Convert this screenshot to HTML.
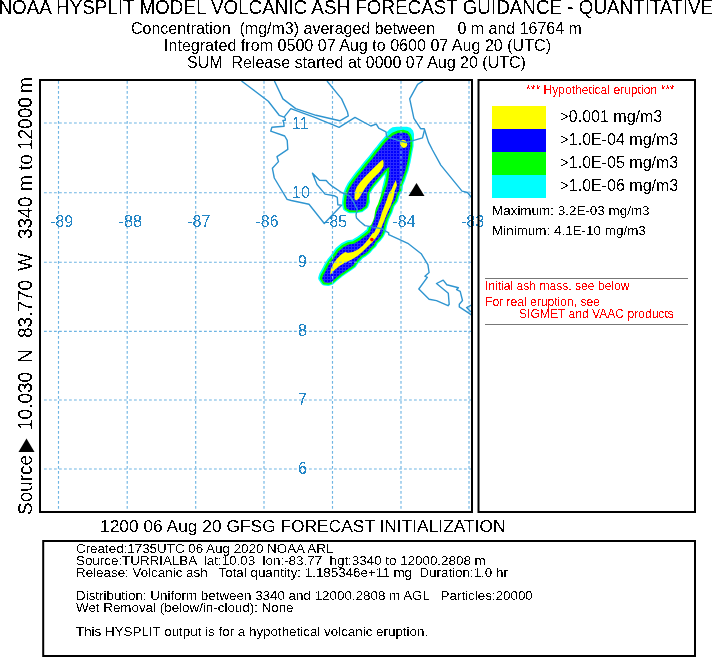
<!DOCTYPE html>
<html><head><meta charset="utf-8">
<style>
html,body{margin:0;padding:0;background:#fff;}
body{width:713px;height:657px;overflow:hidden;}
svg{display:block;}
text{font-family:"Liberation Sans",Arial,sans-serif;fill:#000;white-space:pre;filter:url(#crisp);}
.g{stroke:#6fb5e3;stroke-width:1.15;stroke-dasharray:2.8 2.2;fill:none;}
.c{stroke:#2f95d0;stroke-width:1.4;fill:none;stroke-linejoin:round;}
.lb text{fill:#2386c6;font-size:16px;}
text.r{fill:#f00;font-size:12.1px;}
.b text{font-size:13.38px;}
</style></head>
<body>
<svg width="713" height="657" viewBox="0 0 713 657">
<defs><filter id="crisp" x="-10%" y="-10%" width="120%" height="120%" color-interpolation-filters="sRGB"><feComponentTransfer><feFuncA type="discrete" tableValues="0 1"/></feComponentTransfer></filter></defs>
<rect width="713" height="657" fill="#fff"/>
<!-- header -->
<text x="-1.5" y="13.9" transform="matrix(1 0 0 1.075 0 -1.04)" style="font-size:18.85px">NOAA HYSPLIT MODEL VOLCANIC ASH FORECAST GUIDANCE - QUANTITATIVE</text>
<text x="131" y="33.8" style="font-size:16px;white-space:pre" xml:space="preserve">Concentration  (mg/m3) averaged between     0 m and 16764 m</text>
<text x="164" y="51" style="font-size:16.08px">Integrated from 0500 07 Aug to 0600 07 Aug 20 (UTC)</text>
<text x="187" y="67.8" style="font-size:16px;white-space:pre" xml:space="preserve">SUM  Release started at 0000 07 Aug 20 (UTC)</text>

<!-- map -->
<defs><clipPath id="mc"><rect x="41" y="81" width="430" height="430"/></clipPath></defs>
<g id="map" clip-path="url(#mc)">

<g id="plume">
<defs><path id="pb" d="M391 137 393.1 135.2 398 133.1 403.6 132.4 407.1 133.5 409.2 135.9 410.3 140.1 410.3 146.4 409.2 152 408.2 157.6 407.1 163.2 405.5 170 403.5 175.5 402.1 179.8 399.8 185.3 399.2 190.5 397.5 193 396.2 196.2 395 200.5 391.5 205.4 389.3 212.1 386 218.8 384 225.5 382.6 232.2 381 235.5 378.3 239 375.2 242 373.8 245 370.4 248.1 367.9 251.2 364.5 254 361 256 358.3 259 356 261.5 354.5 263.5 353.5 265.3 350.4 267.5 345.3 271.1 339.9 274.8 335.5 278.4 331.5 282.1 328.6 283 324.6 282.6 322.1 278.7 323 275.8 325.8 270.8 328 266.3 330.8 261.8 334.2 257.8 338.6 251.3 343.7 247 348.7 244.5 353.8 243.7 359.7 240.3 366.4 235.3 370 232.2 372 225.5 374.7 218.8 376.7 212.1 379.4 205.4 382.4 198.7 384.7 192 386.8 186 388.5 178.7 389.3 172 389.3 167 386.8 168.5 384.8 170.3 380.6 175.2 376.4 180.1 372.2 185 369.4 189.2 367.3 193.4 367 197.5 366.6 202.5 365.3 206.3 361 209.5 355.9 210.4 350 210.3 346.6 208.3 345.8 203.5 347 194.8 349 189.6 351.5 185 355.5 179.5 359.3 174.5 363.5 169.5 367.8 164 372.5 158.5 376 153.8 379.8 149.2 383.5 144.5 387 140.5Z"/><pattern id="bp" patternUnits="userSpaceOnUse" x="0" y="0" width="3" height="3"><rect width="3" height="3" fill="#2a2aff"/><rect x="1" y="1" width="2" height="2" fill="#0000fe"/></pattern></defs>
<use href="#pb" fill="#0ff" stroke="#0ff" stroke-width="7.2" stroke-linejoin="round" transform="translate(-0.3 -0.7)"/>
<path d="M386.5 132.5 389.5 129.2 392.5 127.2 397 126.7 407 126.7 410.5 127.8 413 130.5 414 134 414 141 410 141 400 135 390 137Z" fill="#0ff"/>
<use href="#pb" fill="#0f0" stroke="#0f0" stroke-width="4.4" stroke-linejoin="round" transform="translate(-0.15 -0.35)"/>
<path d="M383.3 177.3 382.2 187.2 380.3 197.1 378 204 376 208 375 212 374.3 217 373 221 371 225 366 228 360 225 359 219 363 216.8 367 214.3 370 210.8 371.5 206 369.8 200.2 369.8 194.1 374.2 188 379.5 181.9Z" fill="#fff"/>
<use href="#pb" fill="url(#bp)"/>
<path d="M383.1 159.8 383.6 162.5 383.4 166.5 379.6 171.9 373.2 178.2 368.3 183.8 364.2 189.6 361.3 194.6 359 198.2 356 200.8 354.5 198.6 354.6 196 354.9 192 356.6 187.3 360.1 182.3 364.3 177.4 370.2 171.5 374.7 167 377.8 164 380.9 161Z" fill="#ff0"/>
<path d="M395.7 180.2 397 185.3 394.8 190.8 394.3 194 393.1 198.7 390.8 205.4 387.6 212.1 385 218.8 382.2 225.5 379.6 232.2 376.5 236.9 372.5 242 367.2 247 362.2 252.1 357.1 256.3 351.3 259.7 345.4 262.6 339 266.2 333.5 271 331.2 273.8 330.2 274.6 330.9 269 333.2 264 336.9 258.8 341.2 254.6 345.4 252.1 347.9 252.9 352.9 252.1 358 249.6 363 245.4 367.5 240.3 372.3 233.6 374.4 232.2 377.5 225.5 380 218.8 382.1 212.1 384.7 205.4 387.1 198.7 389.4 192 391.1 190.5 393.3 185.3Z" fill="#ff0"/>
<ellipse cx="403.6" cy="143.8" rx="3.4" ry="4.1" transform="rotate(-25 403.6 143.8)" fill="#ff0"/>
<circle cx="371.9" cy="239.6" r="1.8" fill="#f00"/>
</g>
<g class="g">
<path d="M58.5 81V511M127.2 81V511M195.7 81V511M264 81V511M332.5 81V511M401 81V511M469 81V511"/>
<path d="M44 123H471M44 192.7H471M44 262.2H471M44 331.4H471M44 400H471M44 469H471"/>
</g>
<g class="c">
<path d="M241.5 81 268.3 101.3 279.2 115.3 284.1 117.1 285.3 118.4 285.3 120.2 282.9 120.4 283.7 122.6 284.1 126.3 271.9 127.3 270.7 131.2 284.7 136 287.2 140.3 287.8 149.4 277 156.7 278.5 161.6 272.4 168.3 274.3 178 287.1 199.3 291.3 200.5 309 204.2 324.3 223.5 341.6 205.3 337.8 204.8 337.3 197.3 334.1 195.7 325 194.1 317 184.5 312.5 173.2 319.5 180.3 326.2 180.5 328.6 183.2 332 186.1 341.6 192.5 349.5 195.8 353 201 357.2 209.2 356 215 356.5 218 360 221.5 365 225.6 381.4 228.6 388.7 232.9 388.7 234.7 399.7 239.6 407.8 243.3 421.2 253.7 427.9 264.6 429.1 272.5 424.9 276.2 427.3 277.4 418.8 289 429.1 299.3 436.5 300.6 448 305.7 449.2 304.2 448.3 293.2 436.5 283.5 443.2 280.1 446.8 284.7 458.4 287.8 456.6 289.6 460.2 291.4 462.5 300.5 459.3 304.2 459.3 306.9 470.3 314.2 472 315.5"/>
<path d="M274.4 81 282.9 98.9 295.7 108.6 316 115.3 339.8 120.8 348.3 115.9 347.4 111.7 341.6 98.9 327 81"/>
<path d="M284.1 117.1 290.8 108.6 316 117.8 339.1 127.3 355 117.4 370.8 126 376.3 124.1 378.7 128.1 386 131.8 386.6 136.6 392 138.5 406 142.7 422.5 137.9 424.5 130"/>
<path d="M423.1 81 417.6 84.3 409.7 98.9 413.9 118.4 420.6 128.7 424.3 128.7 428.5 142.1 432.5 150 440.8 165.1 462 191.1 467.5 192.5 472 198"/>
<path d="M472 304.8 466.6 307.6 471 312"/>
</g>
<path d="M416.5 183L424.5 196H408.5Z" fill="#000"/>

</g>
<g class="lb">
<text x="50" y="227">-89</text>
<text x="118.7" y="227">-88</text>
<text x="187.2" y="227">-87</text>
<text x="255.5" y="227">-86</text>
<text x="324" y="227">-85</text>
<text x="392.5" y="227">-84</text>
<text x="461" y="227">-83</text>
<text x="292" y="128.5">11</text>
<text x="292" y="198">10</text>
<text x="298" y="267">9</text>
<text x="298" y="336">8</text>
<text x="298" y="404.5">7</text>
<text x="298" y="474">6</text>
</g>
<rect x="40" y="80" width="432" height="432" fill="none" stroke="#000" stroke-width="2"/>

<!-- legend -->
<rect x="478.5" y="80" width="216.5" height="432" fill="none" stroke="#000" stroke-width="2"/>
<text class="r" x="526" y="93.8" style="white-space:pre" xml:space="preserve">*** Hypothetical eruption ***</text>
<rect x="492" y="106" width="54" height="23" fill="#ff0"/>
<rect x="492" y="129" width="54" height="23" fill="#00f"/>
<rect x="492" y="152" width="54" height="23" fill="#0f0"/>
<rect x="492" y="175" width="54" height="23" fill="#0ff"/>
<text x="559.5" y="122" style="font-size:16px">&gt;0.001 mg/m3</text>
<text x="559.5" y="145" style="font-size:16px">&gt;1.0E-04 mg/m3</text>
<text x="559.5" y="168" style="font-size:16px">&gt;1.0E-05 mg/m3</text>
<text x="559.5" y="191" style="font-size:16px">&gt;1.0E-06 mg/m3</text>
<text x="492" y="214.5" style="font-size:13.45px">Maximum: 3.2E-03 mg/m3</text>
<text x="492" y="234.5" style="font-size:13.45px">Minimum: 4.1E-10 mg/m3</text>
<path d="M485 278.5H688M485 324.5H688" stroke="#777" stroke-width="1"/>
<text class="r" x="485" y="290">Initial ash mass, see below</text>
<text class="r" x="485" y="306">For real eruption, see</text>
<text class="r" x="519" y="318">SIGMET and VAAC products</text>

<!-- vertical label -->
<g style="font-size:19px">
<text transform="translate(32,515) rotate(-90) scale(1,1.07)">Source</text>
<text transform="translate(32,430) rotate(-90) scale(1,1.07)">10.030</text>
<text transform="translate(32,363) rotate(-90) scale(1,1.07)">N</text>
<text transform="translate(32,338) rotate(-90) scale(1,1.07)">83.770</text>
<text transform="translate(32,271) rotate(-90) scale(1,1.07)">W</text>
<text transform="translate(32,239) rotate(-90) scale(1,1.07)">3340</text>
<text transform="translate(32,191) rotate(-90) scale(1,1.07)">m</text>
<text transform="translate(32,170) rotate(-90) scale(1,1.07)">to</text>
<text transform="translate(32,150) rotate(-90) scale(1,1.07)">12000</text>
<text transform="translate(32,93) rotate(-90) scale(1,1.07)">m</text>
</g>
<path d="M26.5 438.5L34.5 452H18.5Z" fill="#000"/>

<!-- footer -->
<text x="100" y="531.5" style="font-size:17.38px">1200 06 Aug 20 GFSG FORECAST INITIALIZATION</text>
<rect x="43.2" y="541" width="651.8" height="115" fill="none" stroke="#000" stroke-width="2"/>
<g class="b" style="white-space:pre" xml:space="preserve">
<text x="76" y="552.7">Created:1735UTC 06 Aug 2020 NOAA ARL</text>
<text x="76" y="564.6">Source:TURRIALBA  lat:10.03  lon:-83.77  hgt:3340 to 12000.2808 m</text>
<text x="76" y="576.7">Release: Volcanic ash   Total quantity: 1.185346e+11 mg  Duration:1.0 hr</text>
<text x="76" y="599.6">Distribution: Uniform between 3340 and 12000.2808 m AGL   Particles:20000</text>
<text x="76" y="611.5">Wet Removal (below/in-cloud): None</text>
<text x="76" y="635.6">This HYSPLIT output is for a hypothetical volcanic eruption.</text>
</g>
</svg>
</body></html>
